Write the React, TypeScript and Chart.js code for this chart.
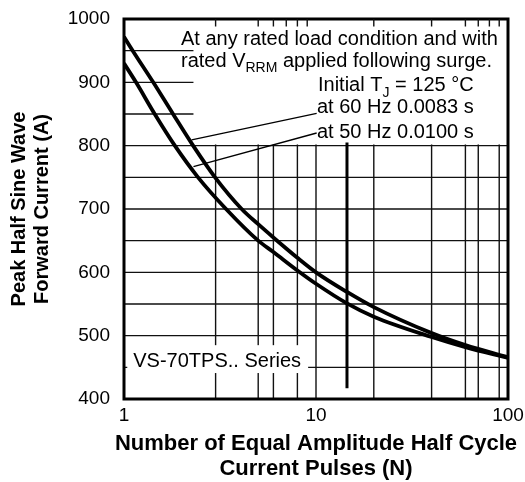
import React, { useEffect, useRef } from "react";
import { Chart, registerables } from "chart.js";

Chart.register(...registerables);

const FONT = "'Liberation Sans', Arial, Helvetica, sans-serif";

// ---- data ----
const pulses60 = [1, 1.11, 1.42, 1.8, 2.29, 2.98, 4.1, 5, 6, 8, 10, 14.5, 20, 40, 60, 100];
const current60 = [972, 950, 900, 850, 800, 750, 700, 676, 655, 623, 600, 569, 545, 504, 485, 466];
const pulses50 = [1, 1.155, 1.445, 1.84, 2.43, 3.4, 5, 6, 8, 10, 14.5, 20, 40, 60, 100];
const current50 = [930, 900, 850, 800, 750, 700, 650, 632, 603, 582, 551, 530, 498, 482, 465];

const xLabelValues = [1, 10, 100];
const gridYValues = [450, 500, 550, 600, 650, 700, 750, 800, 850, 900, 950];
const gridXValues = [3, 5, 6, 8, 10, 20, 40, 60, 70, 90];
const topTickValues = [3, 5, 6, 7, 8, 9, 20, 40, 60, 70, 80, 90];

const xTitleLines = ["Number of Equal Amplitude Half Cycle", "Current Pulses (N)"];
const yTitleLines = ["Peak Half Sine Wave", "Forward Current (A)"];

// annotation texts (parts with optional subscript)
type Part = { t: string; sub?: boolean };
const noteLines: Part[][] = [
  [{ t: "At any rated load condition and with" }],
  [{ t: "rated V" }, { t: "RRM", sub: true }, { t: " applied following surge." }],
  [{ t: "Initial T" }, { t: "J", sub: true }, { t: " = 125 °C" }],
  [{ t: "at 60 Hz 0.0083 s" }],
  [{ t: "at 50 Hz 0.0100 s" }],
];
const seriesLabel = "VS-70TPS.. Series";

// leader lines in data coordinates [N, A]
const leader60 = [[2.25, 809], [10.08, 851]];
const leader50 = [[2.3, 767], [10.08, 820]];

// region masks (data coordinates)
const noteBoxFromN = 2.3;
const noteBoxBottomA = 800;
const seriesBox = { nFrom: 1.04, nTo: 9.1, aFrom: 441, aTo: 485 };
const markerN = 14.5;
const markerFromA = 417;
const markerToA = 805;

function drawParts(ctx: CanvasRenderingContext2D, parts: Part[], x: number, y: number) {
  let cx = x;
  for (const p of parts) {
    ctx.font = p.sub ? `14px ${FONT}` : `20px ${FONT}`;
    ctx.fillText(p.t, cx, p.sub ? y + 5.5 : y);
    cx += ctx.measureText(p.t).width;
  }
}

const sheetPlugin = {
  id: "sheet",
  beforeDatasetsDraw(chart: any) {
    const { ctx, chartArea: a, scales } = chart;
    const x = scales.x;
    const y = scales.y;
    ctx.save();
    ctx.strokeStyle = "#111";
    ctx.lineWidth = 1.4;
    ctx.beginPath();
    for (const v of gridYValues) {
      const py = y.getPixelForValue(v);
      ctx.moveTo(a.left, py);
      ctx.lineTo(a.right, py);
    }
    for (const v of gridXValues) {
      const px = x.getPixelForValue(v);
      ctx.moveTo(px, a.top);
      ctx.lineTo(px, a.bottom);
    }
    ctx.stroke();

    // white masks behind the texts
    ctx.fillStyle = "#fff";
    const bx = x.getPixelForValue(noteBoxFromN);
    const by = y.getPixelForValue(noteBoxBottomA) - 1.2;
    ctx.fillRect(bx, a.top, a.right - bx, by - a.top);
    const sx0 = x.getPixelForValue(seriesBox.nFrom);
    const sx1 = x.getPixelForValue(seriesBox.nTo);
    const sy0 = y.getPixelForValue(seriesBox.aTo);
    const sy1 = y.getPixelForValue(seriesBox.aFrom);
    ctx.fillRect(sx0, sy0, sx1 - sx0, sy1 - sy0);

    // thick marker line
    ctx.strokeStyle = "#000";
    ctx.lineWidth = 3;
    ctx.beginPath();
    const mx = x.getPixelForValue(markerN);
    ctx.moveTo(mx, y.getPixelForValue(markerFromA));
    ctx.lineTo(mx, y.getPixelForValue(markerToA));
    ctx.stroke();
    ctx.restore();
  },
  afterDatasetsDraw(chart: any) {
    const { ctx, chartArea: a, scales } = chart;
    const x = scales.x;
    const y = scales.y;
    ctx.save();
    // leader lines
    ctx.strokeStyle = "#000";
    ctx.lineWidth = 1.3;
    ctx.beginPath();
    for (const l of [leader60, leader50]) {
      ctx.moveTo(x.getPixelForValue(l[0][0]), y.getPixelForValue(l[0][1]));
      ctx.lineTo(x.getPixelForValue(l[1][0]), y.getPixelForValue(l[1][1]));
    }
    ctx.stroke();

    // annotation text
    ctx.fillStyle = "#000";
    ctx.textAlign = "left";
    ctx.textBaseline = "alphabetic";
    const lefts = [57, 57, 194, 193, 193];
    const bases = [26, 47.7, 72, 94, 119];
    noteLines.forEach((parts, i) => drawParts(ctx, parts, a.left + lefts[i], a.top + bases[i]));

    ctx.font = `20px ${FONT}`;
    const sx0 = x.getPixelForValue(seriesBox.nFrom);
    ctx.fillText(seriesLabel, sx0 + 6, y.getPixelForValue(450));

    // frame
    ctx.lineWidth = 3;
    ctx.strokeStyle = "#000";
    ctx.strokeRect(a.left, a.top, a.right - a.left, a.bottom - a.top);

    // top tick marks
    ctx.lineWidth = 1.4;
    ctx.strokeStyle = "#111";
    ctx.beginPath();
    for (const v of topTickValues) {
      const px = x.getPixelForValue(v);
      ctx.moveTo(px, a.top);
      ctx.lineTo(px, a.top + 7.5);
    }
    ctx.stroke();

    // x axis title
    ctx.fillStyle = "#000";
    ctx.font = `bold 22px ${FONT}`;
    ctx.textAlign = "center";
    const cx = (a.left + a.right) / 2;
    ctx.fillText(xTitleLines[0], cx, 450);
    ctx.fillText(xTitleLines[1], cx, 475);
    ctx.restore();
  },
};

export default function App() {
  const ref = useRef<HTMLCanvasElement | null>(null);
  useEffect(() => {
    if (!ref.current) return;
    const chart = new Chart(ref.current, {
      type: "line",
      data: {
        datasets: [
          {
            label: "60 Hz 0.0083 s",
            data: pulses60.map((n, i) => ({ x: n, y: current60[i] })),
            borderColor: "#000",
            borderWidth: 3.8,
            pointRadius: 0,
            cubicInterpolationMode: "monotone",
            fill: false,
          },
          {
            label: "50 Hz 0.0100 s",
            data: pulses50.map((n, i) => ({ x: n, y: current50[i] })),
            borderColor: "#000",
            borderWidth: 3.8,
            pointRadius: 0,
            cubicInterpolationMode: "monotone",
            fill: false,
          },
        ],
      },
      options: {
        animation: false,
        responsive: false,
        layout: { padding: { top: 19, right: 17, left: 0, bottom: 0 } },
        plugins: {
          legend: { display: false },
          tooltip: { enabled: false },
          title: { display: false },
        },
        scales: {
          x: {
            type: "logarithmic",
            min: 1,
            max: 100,
            grid: { display: false, drawTicks: false },
            border: { display: false },
            ticks: {
              autoSkip: false,
              maxRotation: 0,
              minRotation: 0,
              padding: 5,
              color: "#000",
              font: { size: 19, family: FONT },
              callback: (v: any) => (xLabelValues.includes(Number(v)) ? String(v) : ""),
            },
            afterFit: (s: any) => {
              s.height = 83;
              s.paddingLeft = 0;
              s.paddingRight = 0;
            },
          },
          y: {
            type: "linear",
            min: 400,
            max: 1000,
            grid: { display: false, drawTicks: false },
            border: { display: false },
            ticks: {
              stepSize: 100,
              padding: 14,
              color: "#000",
              font: { size: 19, family: FONT },
              callback: (v: any) => String(v),
            },
            title: {
              display: true,
              text: yTitleLines,
              color: "#000",
              font: { size: 20, weight: "bold", family: FONT, lineHeight: 1.15 },
              padding: { top: 7.5, bottom: 0 },
            },
            afterFit: (s: any) => {
              s.width = 124;
              s.paddingTop = 0;
              s.paddingBottom = 0;
            },
          },
        },
      } as any,
      plugins: [sheetPlugin],
    });
    return () => chart.destroy();
  }, []);

  return (
    <div style={{ position: "fixed", left: 0, top: 0, width: 525, height: 482, background: "#fff" }}>
      <canvas ref={ref} width={525} height={482} style={{ display: "block" }} />
    </div>
  );
}
